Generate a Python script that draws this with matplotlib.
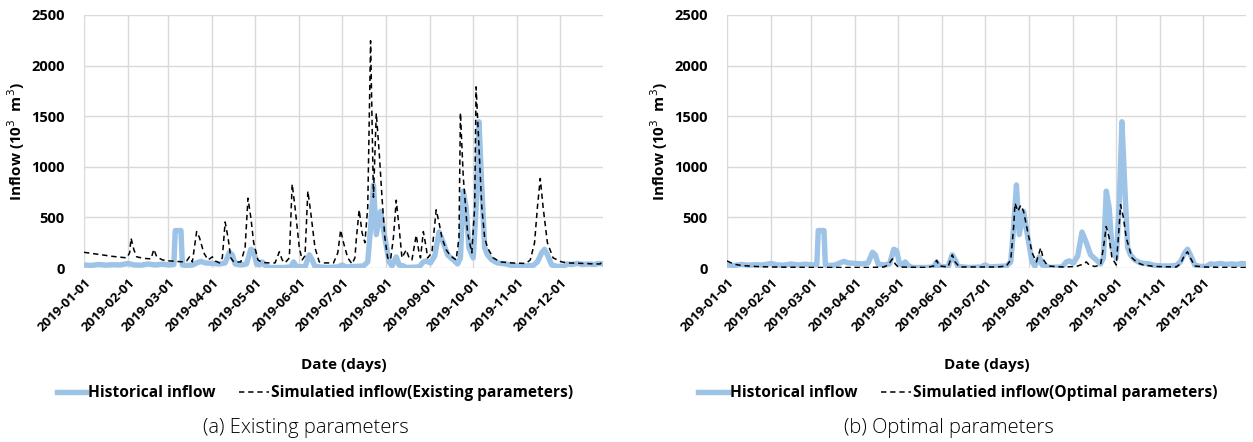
import matplotlib
matplotlib.use("Agg")
import matplotlib.pyplot as plt
import matplotlib.transforms as mtransforms
import numpy as np
import pandas as pd

# ---- data (day of year, 0 = 2019-01-01; values in 10^3 m^3) ----
hist_days = [0, 5, 10, 15, 20, 25, 31, 35, 40, 45, 50, 55, 60, 63, 64, 68, 69, 72, 76, 80, 82, 85, 90, 95, 99,
             102, 104, 106, 110, 114, 117, 119, 121, 123, 125, 127, 130, 140, 145, 147, 149, 155, 158, 160, 162,
             170, 178, 181, 184, 190, 196, 199, 201, 203, 205, 208, 211, 214, 216, 219, 221, 224, 226, 235, 238,
             240, 243, 246, 249, 252, 255, 259, 262, 264, 266, 268, 270, 273, 275, 277, 279, 281, 283, 286, 290,
             296, 300, 305, 310, 315, 318, 321, 323, 325, 328, 332, 336, 339, 342, 346, 350, 354, 358, 361, 364]
hist_vals = [30, 25, 35, 28, 32, 30, 45, 30, 28, 40, 30, 38, 30, 35, 370, 370, 30, 25, 30, 55, 65, 50, 45, 40, 50,
             155, 130, 40, 30, 40, 185, 170, 40, 30, 60, 25, 5, 5, 10, 60, 15, 10, 130, 80, 15,
             5, 10, 30, 10, 15, 20, 60, 400, 820, 330, 560, 300, 60, 20, 110, 30, 20, 5, 10, 60,
             70, 50, 120, 355, 250, 130, 80, 40, 100, 760, 600, 200, 100, 600, 1445, 800, 200, 130, 80, 50,
             40, 25, 20, 20, 25, 60, 150, 185, 130, 30, 15, 15, 40, 35, 45, 35, 40, 35, 45, 40]

sim_exist_days = [0, 10, 20, 30, 32, 33, 35, 37, 42, 47, 49, 51, 55, 60, 65, 70, 72, 74, 76, 79, 81, 84, 87, 90,
                  92, 95, 97, 99, 101, 103, 105, 110, 113, 115, 117, 119, 122, 125, 130, 134, 137, 139, 141, 144,
                  146, 148, 151, 153, 155, 157, 159, 162, 165, 168, 175, 178, 180, 182, 185, 188, 190, 191, 193,
                  195, 197, 199, 201, 203, 205, 207, 209, 211, 213, 215, 217, 219, 221, 223, 226, 228, 230, 233,
                  235, 236, 238, 240, 241, 244, 247, 249, 251, 254, 257, 261, 263, 264, 266, 269, 272, 274, 275,
                  277, 279, 281, 283, 287, 292, 300, 310, 313, 316, 318, 320, 322, 325, 329, 335, 340, 350, 358,
                  362, 364]
sim_exist_vals = [155, 135, 115, 100, 150, 295, 180, 110, 95, 90, 185, 110, 80, 70, 65, 60, 70, 110, 60, 360, 300,
                  150, 80, 110, 70, 50, 100, 455, 300, 100, 60, 60, 200, 690, 500, 250, 80, 55, 50, 50, 160, 80,
                  50, 100, 830, 600, 200, 80, 120, 760, 550, 200, 60, 50, 50, 150, 375, 250, 100, 40, 100, 290,
                  575, 350, 250, 600, 2245, 700, 1530, 1150, 700, 300, 100, 80, 300, 670, 400, 100, 180, 100, 80,
                  325, 150, 100, 360, 200, 100, 150, 575, 450, 300, 180, 120, 80, 300, 1535, 900, 350, 150, 600,
                  1790, 1200, 600, 300, 200, 100, 60, 50, 45, 80, 250, 600, 885, 600, 250, 100, 60, 50, 45, 40,
                  40, 70]

sim_opt_days = [0, 3, 6, 10, 20, 30, 60, 100, 110, 113, 116, 118, 120, 140, 145, 147, 149, 155, 158, 160, 163,
                190, 196, 199, 201, 202, 204, 206, 208, 211, 214, 217, 220, 222, 225, 235, 245, 250, 252, 254,
                258, 262, 264, 266, 268, 270, 273, 275, 276, 278, 280, 284, 288, 292, 300, 315, 318, 321, 323,
                325, 328, 335, 350, 364]
sim_opt_vals = [70, 50, 35, 25, 15, 10, 5, 5, 10, 30, 90, 40, 10, 5, 20, 75, 20, 10, 130, 60, 10,
                10, 20, 80, 400, 640, 560, 620, 560, 350, 150, 60, 200, 80, 20, 10, 15, 40, 60, 30,
                15, 30, 200, 410, 300, 100, 30, 400, 625, 500, 300, 100, 50, 30, 15, 10, 40, 130, 160,
                100, 20, 10, 5, 5]

month_ticks = ["2019-01-01", "2019-02-01", "2019-03-01", "2019-04-01", "2019-05-01", "2019-06-01",
               "2019-07-01", "2019-08-01", "2019-09-01", "2019-10-01", "2019-11-01", "2019-12-01"]
y_ticks = [0, 500, 1000, 1500, 2000, 2500]

panels = [
    dict(sim_days=sim_exist_days, sim_vals=sim_exist_vals,
         sim_label="Simulatied inflow(Existing parameters)", caption="(a) Existing parameters"),
    dict(sim_days=sim_opt_days, sim_vals=sim_opt_vals,
         sim_label="Simulatied inflow(Optimal parameters)", caption="(b) Optimal parameters"),
]

plt.rcParams['font.family'] = ['Open Sans', 'DejaVu Sans']

start = pd.Timestamp("2019-01-01")
def to_dates(days):
    return [start + pd.Timedelta(days=int(d)) for d in days]

W, H = 1253, 442
fig = plt.figure(figsize=(W / 100, H / 100), dpi=100)

lefts = [84, 727]
ax_w = 519
top_px, bot_px = 15, 268
ax_h = bot_px - top_px
hist_color = "#9DC3E6"
grid_color = "#D9D9D9"
label_shift = mtransforms.ScaledTranslation(6 / 100, 0, fig.dpi_scale_trans)

for i, p in enumerate(panels):
    l = lefts[i]
    ax = fig.add_axes([l / W, 1 - bot_px / H, ax_w / W, ax_h / H])
    ax.plot(to_dates(hist_days), hist_vals, color=hist_color, lw=3.9, solid_joinstyle='round',
            label="Historical inflow", zorder=3)
    ax.plot(to_dates(p["sim_days"]), p["sim_vals"], color="black", lw=1.1, dashes=(3.5, 2.5),
            label=p["sim_label"], zorder=4)
    ax.set_xlim(pd.Timestamp("2019-01-01"), pd.Timestamp("2019-12-31"))
    ax.set_ylim(0, 2500)
    ax.set_yticks(y_ticks)
    ax.set_xticks([pd.Timestamp(t) for t in month_ticks])
    ax.set_xticklabels(month_ticks, rotation=45, ha='right', va='top', rotation_mode='anchor',
                       fontsize=9.5, fontweight='bold')
    for t in ax.get_xticklabels():
        t.set_transform(t.get_transform() + label_shift)
    for t in ax.get_yticklabels():
        t.set_fontweight('bold')
        t.set_fontsize(10.5)
    ax.tick_params(axis='y', length=0, pad=14)
    ax.tick_params(axis='x', length=0, pad=6)
    ax.grid(True, color=grid_color, lw=1.0)
    ax.set_axisbelow(True)
    for s in ax.spines.values():
        s.set_visible(False)
    ax.set_ylabel("Inflow (10$^3$  m$^3$)", fontsize=11, fontweight='bold')
    ax.yaxis.set_label_coords(-0.11, 0.5)
    ax.set_xlabel("Date (days)", fontsize=11, fontweight='bold')
    ax.xaxis.set_label_coords(0.5, -0.383)
    ax.xaxis.label.set_va('center')
    ax.legend(loc='center', bbox_to_anchor=(0.445, -0.494), ncol=2, frameon=False,
              prop=dict(size=11.2, weight='bold'), handlelength=1.9, handletextpad=0.15,
              columnspacing=1.5)
    fig.text((l + ax_w / 2 - 38) / W, 1 - 428 / H, p["caption"], ha='center', va='center',
             fontsize=14.5, fontweight='light')

fig.savefig("out.png", dpi=100)
